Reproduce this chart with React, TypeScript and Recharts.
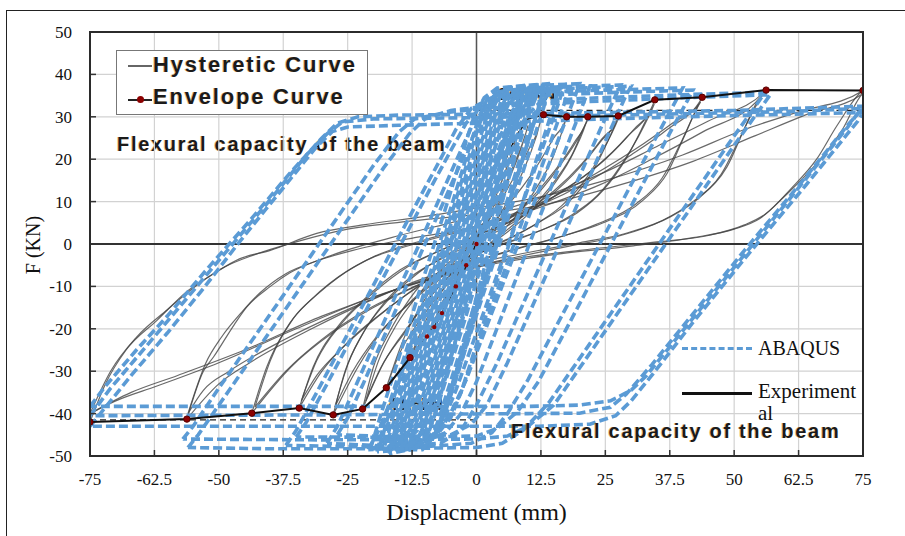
import React from 'react';
import { LineChart, Line, XAxis, YAxis, CartesianGrid, ReferenceLine } from 'recharts';

// axis ticks
const xTicks = [-75, -62.5, -50, -37.5, -25, -12.5, 0, 12.5, 25, 37.5, 50, 62.5, 75];
const yTicks = [-50, -40, -30, -20, -10, 0, 10, 20, 30, 40, 50];

// envelope curve (experiment), [disp, force] - split so the middle part sits under the ABAQUS band
const envelopeNeg = [
  [-75, -42], [-56.2, -41.3], [-43.6, -39.9], [-34.4, -38.7], [-27.8, -40.3], [-22.1, -38.9],
  [-17.5, -33.9], [-12.9, -26.8],
];
const envelopeMidNeg = [[-12.9, -26.8], [-9.6, -21.8], [-8.2, -19.6], [-6.7, -16.3], [-4, -10], [-2, -5], [0, 0]];
const envelopeMidPos = [[0, 0], [2, 7], [4, 14], [6, 21], [8, 26], [10, 29.5], [13, 30.5]];
const envelopePos = [
  [13, 30.5], [17.5, 30], [21.6, 30], [27.5, 30.2], [34.6, 34], [43.8, 34.6], [56.2, 36.3], [75, 36.2],
];

// experimental hysteretic loops
const exp75a = [[-75,-42],[-72,-33],[-68,-25],[-62,-18],[-56,-11],[-51,-7],[-46,-3.5],[-40,-1.5],[-31,2.5],[-22,4.5],[-10,6.5],[0,8.5],[12,11],[25,15],[40,21],[52,27],[62,31],[75,36.2],[70,28],[66,20],[61,13],[56,7],[52,4.5],[45,2],[35,0.5],[20,-1.5],[5,-4],[-5,-7],[-15,-10.5],[-30,-17],[-45,-25],[-58,-31],[-67,-35],[-75,-40]];
const exp75b = [[-75,-40],[-71,-30],[-66,-22],[-60,-15.5],[-54,-9.5],[-49,-5.5],[-43,-2.5],[-35,0.5],[-25,3.5],[-12,5.5],[0,7],[14,9.5],[28,14],[42,19.5],[54,25.5],[64,30.5],[75,35.5],[71,27],[66,19],[60,11.5],[55,6],[50,3.5],[42,1.5],[30,-0.5],[15,-2.5],[2,-5],[-8,-8],[-20,-12.5],[-35,-20],[-50,-28],[-62,-33.5],[-70,-37],[-75,-40]];
const exp56a = [[-56.2,-41.3],[-53,-30],[-51,-26.6],[-47,-19],[-44.6,-14.9],[-40,-10],[-36.2,-6.8],[-30,-3.5],[-25,-1.4],[-15,2],[-5,5],[5,8],[15,12],[25,17],[35,23],[45,29],[56.2,36.3],[52.5,28.5],[48.6,18.2],[43.4,11.1],[37.6,6.4],[29.2,2.6],[20,0.3],[10,-2],[0,-4.5],[-10,-8],[-20,-13],[-32,-20],[-44,-28],[-50,-33],[-56.2,-41.3]];
const exp56b = [[-56,-40],[-52.5,-28],[-49.5,-22],[-45.5,-16],[-42,-11.5],[-37,-7],[-31,-4],[-24,-1.5],[-12,1.5],[0,4],[12,8.5],[24,14],[34,20],[44,26.5],[55,34.5],[51.5,26],[47.5,16.5],[42,10],[36,5.5],[28,2],[18,-0.5],[8,-3],[-3,-6],[-14,-10],[-26,-16],[-38,-23],[-48,-30],[-53,-34.5],[-56,-40]];
const exp44a = [[-43.6,-39.9],[-40.7,-29],[-36.2,-18.6],[-32,-13],[-28.4,-9.2],[-21.3,-3.8],[-12,0],[0,4],[12,9],[22,15],[30,21],[37,27],[43.8,34.6],[40,24.5],[37,16.7],[32.4,10.4],[24.6,5],[16.2,1.7],[8,-1],[0,-4],[-10,-9],[-20,-15],[-28,-21],[-36,-29],[-43.6,-39.9]];
const exp44b = [[-43,-38.5],[-40,-27.5],[-35.5,-17.5],[-31,-12],[-27,-8],[-20,-3],[-10,1],[2,5],[13,10],[23,16.5],[31,22.5],[38,28.5],[43.5,33.5],[39.5,23.5],[36,15.5],[31,9.5],[23,4.5],[15,1.2],[6,-1.8],[-2,-5],[-12,-10],[-22,-16],[-30,-22.5],[-37,-30],[-43,-38.5]];
const exp34a = [[-34.4,-38.7],[-31.7,-29],[-27,-19.6],[-21.3,-12.5],[-14.8,-6.1],[-8,-2],[0,2],[8,6],[16,12],[23,18],[29,25],[34.6,34],[32,27],[29.2,20.5],[24.6,12.7],[19.5,7.3],[12,3],[5,0],[-3,-4],[-10,-9],[-17,-15],[-24,-22],[-30,-30],[-34.4,-38.7]];
const exp34b = [[-34,-37],[-31,-27.5],[-26,-18.5],[-20,-11.5],[-13.5,-5.5],[-6,-1],[2,3],[10,7.5],[18,13.5],[25,20],[30.5,27],[34.5,33],[31.5,25.5],[28,18.5],[23.5,11.5],[18,6.5],[10,2],[3,-1],[-5,-5],[-12,-10.5],[-19,-17],[-26,-24.5],[-31,-31],[-34,-37]];
const exp28a = [[-27.8,-40.3],[-25.5,-30],[-22,-21],[-18,-14],[-13,-8],[-6,-3],[0,0.5],[7,5],[14,11],[20,18],[24,24],[27.5,30.2],[25,23],[22,16],[18,10],[12,5],[6,1],[0,-2.5],[-6,-7],[-12,-13],[-18,-20],[-23,-29],[-27.8,-40.3]];
const exp28b = [[-27.5,-38.5],[-25,-28.5],[-21.5,-20],[-17,-13],[-11.5,-7],[-5,-2],[1,1.5],[8,6.5],[15,12.5],[20.5,19],[24.5,25],[27.5,29.5],[24.5,22],[21,15],[16.5,9],[10.5,4],[4,0],[-2,-3.5],[-8,-8.5],[-14,-15],[-19.5,-22],[-24,-30],[-27.5,-38.5]];
const exp22a = [[-22.1,-38.9],[-20,-29],[-17,-21],[-13,-13],[-8,-6],[-2,-1],[4,4],[10,10],[15,17],[19,24],[21.6,30],[19,22],[15,14],[10,7],[4,1],[-2,-4],[-8,-11],[-13,-19],[-18,-28],[-22.1,-38.9]];
const exp22b = [[-21.5,-37],[-19,-27.5],[-15.5,-19],[-11,-11.5],[-6,-5],[0,0],[6,5.5],[12,12],[16.5,19],[20,25.5],[21.5,29],[18.5,21],[14,13],[8.5,6],[2.5,0],[-3.5,-5.5],[-9,-12.5],[-14,-21],[-18.5,-29],[-21.5,-37]];
const exp17 = [[-17.5,-33.9],[-14,-22],[-10,-13],[-5,-5],[0,1],[6,9],[11,17],[15,25],[17.5,30],[15,21],[11,12],[5,3],[0,-3],[-6,-10],[-11,-18],[-15,-26],[-17.5,-33.9]];
const exp13 = [[-12.9,-26.8],[-9,-16],[-4,-6],[1,3],[6,13],[10,22],[12.5,29.5],[10,20],[6,10],[1,0],[-4,-9],[-9,-18],[-12.9,-26.8]];
const exp10 = [[-9.6,-21.8],[-5,-10],[0,0],[5,12],[8.5,22],[10,28],[7,18],[3,8],[-2,-5],[-6,-13],[-9.6,-21.8]];
const exp7 = [[-6.7,-16.3],[-3,-7],[1,3],[4,12],[7.5,24],[5,15],[1,4],[-3,-6],[-6.7,-16.3]];

// ABAQUS loops
const abq75a = [[-75,-38.3],[-72,-33.5],[-66,-25],[-60,-17],[-52,-5.5],[-44,5.5],[-36,17],[-30,25],[-27,28.5],[-23,30],[-15,30.4],[0,30.6],[25,31],[50,31.5],[75,32.5],[72,27.5],[62,12.5],[50,-5.5],[40,-20.5],[33,-31],[30,-34.5],[26,-37],[20,-38],[10,-38.3],[-20,-38.3],[-50,-38.3],[-75,-38.3]];
const abq75b = [[-75,-40.5],[-71,-34],[-64,-24],[-56,-12.5],[-48,-1],[-40,10.5],[-33,21],[-29,26],[-26,28.8],[-20,29.5],[0,29.8],[30,30.5],[60,31.2],[75,32],[72,28],[63,14.5],[52,-1.5],[42,-16.5],[34,-28.5],[29,-35.5],[26,-38.5],[20,-39.9],[10,-40],[-30,-40.3],[-75,-40.5]];
const abq75c = [[-75,-43],[-73,-40],[-67,-31],[-60,-21],[-53,-10.5],[-46,0.5],[-38,12.5],[-31,23],[-28,26.5],[-25,27.6],[-15,28],[0,28.5],[25,29.5],[50,30.3],[75,31],[74,29],[64,14],[52,-3.5],[42,-18.5],[34,-31],[30,-37],[27,-40.5],[22,-42.5],[12,-43],[-30,-43],[-75,-43]];
const abq56a = [[-56,-48],[-54,-45],[-48,-34.5],[-42,-24],[-36,-13.5],[-30,-3],[-24,7.5],[-18,18],[-13,26],[-10,29.5],[-5,31.5],[5,33],[20,34.3],[40,35.2],[56,35.8],[55,34],[50,25.5],[44,15],[38,4.5],[32,-6],[26,-16.5],[20,-27],[14,-37.5],[9,-44],[5,-47],[0,-48],[-20,-48.3],[-40,-48.3],[-56,-48]];
const abq56b = [[-57,-46],[-55,-43],[-50,-34],[-44,-23.5],[-38,-13],[-32,-2.5],[-26,8],[-20,18.5],[-15,26.5],[-12,29.5],[-6,31],[5,32.5],[20,33.5],[40,34.5],[57,35.2],[56,33.5],[51,25],[45,14.5],[39,4],[33,-6.5],[27,-17],[21,-27.5],[15,-38],[10,-43],[6,-45.3],[0,-46],[-30,-46.2],[-57,-46]];
const abq40a = [[-37,-47.5],[-35,-44],[-31,-35],[-26,-23.5],[-21,-12],[-16,-0.5],[-11,11],[-7,20],[-4,27],[-1,32],[3,34.5],[12,35.8],[25,36.3],[40,36.8],[39,34.5],[35,25.5],[30,14],[25,2.5],[20,-9],[15,-20.5],[10,-32],[6,-40],[3,-44.5],[-1,-47],[-10,-47.8],[-25,-47.8],[-37,-47.5]];
const abq40b = [[-35,-45.5],[-33,-42],[-29,-33],[-24,-21.5],[-19,-10],[-14,1.5],[-9,13],[-5,22],[-2,28.5],[1,32.5],[5,34.3],[15,35.2],[28,35.8],[42,36.3],[41,34],[37,25],[32,13.5],[27,2],[22,-9.5],[17,-21],[12,-32.5],[8,-39.5],[4,-43.5],[0,-45.3],[-15,-45.6],[-35,-45.5]];
const abq28a = [[-29,-47],[-27,-43],[-24,-35],[-20,-24],[-16,-13],[-12,-2.5],[-8,8.5],[-4,19.5],[-1,27.5],[2,33],[6,36],[15,37],[28,37.5],[27,35],[24,27],[20,16],[16,5],[12,-6],[8,-17],[4,-28],[0,-38],[-3,-44],[-7,-47],[-15,-47.8],[-29,-47]];
const abq28b = [[-27,-45],[-25,-41],[-22,-33],[-18,-22],[-14,-11],[-10,0],[-6,11],[-2,22],[1,29.5],[4,34],[10,36.2],[20,36.8],[30,37.2],[29,35],[26,27],[22,16],[18,5],[14,-6],[10,-17],[6,-28],[2,-38],[-1,-42.5],[-5,-45],[-15,-45.5],[-27,-45]];
const abq20a = [[-21,-48.5],[-19,-44],[-16,-35],[-13,-25],[-10,-15.5],[-7,-6],[-4,3.5],[-1,13],[2,22.5],[5,31],[8,35.5],[14,37.5],[20,37.8],[19,34.5],[16,25],[13,15.5],[10,6],[7,-3.5],[4,-13],[1,-22.5],[-2,-32],[-5,-40],[-8,-45.5],[-12,-48],[-21,-48.5]];
const abq20b = [[-19,-46.5],[-17,-42],[-14,-33],[-11,-23.5],[-8,-14],[-5,-4.5],[-2,5],[1,14.5],[4,24],[7,31.5],[10,35.5],[16,37],[22,37.3],[21,34],[18,24.5],[15,15],[12,5.5],[9,-4],[6,-13.5],[3,-23],[0,-32.5],[-3,-40],[-6,-44.5],[-10,-46.5],[-19,-46.5]];
const abq17a = [[-17,-49.5],[-15,-45],[-12.5,-37],[-10,-28.5],[-7.5,-20],[-5,-11.5],[-2.5,-3],[0,5.5],[2.5,14],[5,22.5],[7.5,30],[10,35],[17,37.5],[16,33.5],[13.5,25],[11,16.5],[8.5,8],[6,-0.5],[3.5,-9],[1,-17.5],[-1.5,-26],[-4,-34.5],[-6.5,-42],[-9.5,-47.5],[-17,-49.5]];
const abq17b = [[-16,-44],[-13.5,-38],[-11,-29.5],[-8.5,-21],[-6,-12.5],[-3.5,-4],[-1,4.5],[1.5,13],[4,21.5],[6.5,29],[9,34],[12,36.5],[18,37],[17,33],[14.5,24.5],[12,16],[9.5,7.5],[7,-1],[4.5,-9.5],[2,-18],[-0.5,-26.5],[-3,-35],[-5.5,-41],[-9,-44],[-16,-44]];
const abq14a = [[-15,-49],[-13,-44],[-11,-36.5],[-9,-29],[-7,-21.5],[-5,-14],[-3,-6.5],[-1,1],[1,8.5],[3,16],[5,23.5],[7,30],[9,34.5],[14,36.5],[13,32],[11,24.5],[9,17],[7,9.5],[5,2],[3,-5.5],[1,-13],[-1,-20.5],[-3,-28],[-5,-35.5],[-7,-42],[-10,-47],[-15,-49]];
const abq14b = [[-13,-47],[-11,-41],[-9,-33.5],[-7,-26],[-5,-18.5],[-3,-11],[-1,-3.5],[1,4],[3,11.5],[5,19],[7,26.5],[9,32],[11,35.5],[16,36.8],[15,32.5],[13,25],[11,17.5],[9,10],[7,2.5],[5,-5],[3,-12.5],[1,-20],[-1,-27.5],[-3,-35],[-5,-41],[-8,-45.5],[-13,-47]];
const abq12 = [[-12,-48],[-10,-42],[-8,-34],[-6,-26],[-4,-18],[-2,-10],[0,-2],[2,6],[4,14],[6,22],[8,29.5],[10,34.5],[13,36.8],[12,32],[10,24],[8,16],[6,8],[4,0],[2,-8],[0,-16],[-2,-24],[-4,-32],[-6,-39.5],[-8,-45],[-12,-48]];
const abq10 = [[-10,-47],[-8,-40],[-6,-31.5],[-4,-22.5],[-2,-13.5],[0,-4.5],[2,4.5],[4,13.5],[6,22.5],[8,31],[9,35],[11,36.5],[10,32],[8,23.5],[6,14.5],[4,5.5],[2,-3.5],[0,-12.5],[-2,-21.5],[-4,-30.5],[-6,-38.5],[-8,-44.5],[-10,-47]];
// small cycles forming the dense central band
const abqS1 = [[-18.3,-47],[-16.5,-40],[-13.9,-30],[-11.3,-20],[-8.8,-10],[-6.2,0],[-3.6,10],[-1.1,20],[1.5,30],[3,34.5],[5,36.5],[12,37.3],[13,35.5],[11.5,30],[8.9,20],[6.4,10],[3.8,0],[1.2,-10],[-1.3,-20],[-3.9,-30],[-6.5,-40],[-8.3,-45],[-10.5,-47.3],[-18.3,-47]];
const abqS2 = [[-16.3,-47.5],[-14.5,-40],[-11.9,-30],[-9.3,-20],[-6.8,-10],[-4.2,0],[-1.6,10],[0.9,20],[3.5,30],[5,34],[7,36],[11,36.8],[11,34],[9.5,30],[6.9,20],[4.4,10],[1.8,0],[-0.8,-10],[-3.3,-20],[-5.9,-30],[-8.5,-40],[-10,-44.5],[-12,-47],[-16.3,-47.5]];
const abqS3 = [[-14.3,-46],[-12.5,-40],[-9.9,-30],[-7.3,-20],[-4.8,-10],[-2.2,0],[0.4,10],[2.9,20],[5.5,30],[7,34],[9,35.5],[8.5,32],[7.5,30],[4.9,20],[2.4,10],[-0.2,0],[-2.8,-10],[-5.3,-20],[-7.9,-30],[-10.5,-40],[-12,-44],[-14.3,-46]];
const abqS4 = [[-19.3,-49],[-17.5,-40],[-14.9,-30],[-12.3,-20],[-9.8,-10],[-7.2,0],[-4.6,10],[-2.1,20],[0.5,30],[2,34],[4,36.5],[10,37.5],[10.5,34],[8.5,30],[5.9,20],[3.4,10],[0.8,0],[-1.8,-10],[-4.3,-20],[-6.9,-30],[-9.5,-40],[-11,-45],[-13,-48.5],[-19.3,-49]];
const abqS5 = [[-15.3,-48],[-13.5,-40],[-10.9,-30],[-8.3,-20],[-5.8,-10],[-3.2,0],[-0.6,10],[1.9,20],[4.5,30],[6,34],[8,36.5],[13,37.5],[13.5,35],[11.5,30],[8.9,20],[6.4,10],[3.8,0],[1.2,-10],[-1.3,-20],[-3.9,-30],[-6.5,-40],[-8,-45],[-10,-48],[-15.3,-48]];
const abqS6 = [[-17.3,-46.5],[-15.5,-40],[-12.9,-30],[-10.3,-20],[-7.8,-10],[-5.2,0],[-2.6,10],[-0.1,20],[2.5,30],[4,34],[6,35.8],[9,36.2],[8.5,33],[6.5,30],[3.9,20],[1.4,10],[-1.2,0],[-3.8,-10],[-6.3,-20],[-8.9,-30],[-11.5,-40],[-13,-44],[-14.5,-46],[-17.3,-46.5]];
const abqS7 = [[-20.5,-48],[-18.5,-40],[-15.9,-30],[-13.3,-20],[-10.8,-10],[-8.2,0],[-5.6,10],[-3.1,20],[-0.5,30],[1.5,34.5],[4,36.8],[14,37.8],[14.5,36],[9.5,30],[6.9,20],[4.4,10],[1.8,0],[-0.8,-10],[-3.3,-20],[-5.9,-30],[-8.5,-40],[-10,-45.5],[-12.5,-48.5],[-20.5,-48]];
const abqS8 = [[-17.8,-47.5],[-16,-40],[-13.4,-30],[-10.8,-20],[-8.3,-10],[-5.7,0],[-3.1,10],[-0.6,20],[2,30],[3.5,34.5],[5.5,36.3],[11,37],[11.5,34.5],[10,30],[7.4,20],[4.9,10],[2.3,0],[-0.3,-10],[-2.8,-20],[-5.4,-30],[-8,-40],[-9.5,-45],[-11.5,-47.8],[-17.8,-47.5]];
const abqS9 = [[-15.8,-45.5],[-14,-40],[-11.4,-30],[-8.8,-20],[-6.3,-10],[-3.7,0],[-1.1,10],[1.4,20],[4,30],[5.5,34],[7.5,35.8],[9,35.5],[8,30],[5.4,20],[2.9,10],[0.3,0],[-2.3,-10],[-4.8,-20],[-7.4,-30],[-10,-40],[-11.5,-44],[-13,-45.8],[-15.8,-45.5]];
const abqS10 = [[-18.8,-48],[-17,-40],[-14.4,-30],[-11.8,-20],[-9.3,-10],[-6.7,0],[-4.1,10],[-1.6,20],[1,30],[2.5,34],[4.5,36],[8,36.5],[8,33],[7,30],[4.4,20],[1.9,10],[-0.7,0],[-3.3,-10],[-5.8,-20],[-8.4,-30],[-11,-40],[-12.5,-45],[-14.5,-47.8],[-18.8,-48]];
const abqS11 = [[-16.8,-48.5],[-15,-40],[-12.4,-30],[-9.8,-20],[-7.3,-10],[-4.7,0],[-2.1,10],[0.4,20],[3,30],[4.5,34.5],[6.5,36.8],[12.5,37.6],[13,35],[11,30],[8.4,20],[5.9,10],[3.3,0],[0.7,-10],[-1.8,-20],[-4.4,-30],[-7,-40],[-8.5,-45.5],[-10.5,-48.5],[-16.8,-48.5]];
const abqS12 = [[-14.8,-47],[-13,-40],[-10.4,-30],[-7.8,-20],[-5.3,-10],[-2.7,0],[-0.1,10],[2.4,20],[5,30],[6.5,34],[8.5,36],[10.5,36.2],[10,33],[9,30],[6.4,20],[3.9,10],[1.3,0],[-1.3,-10],[-3.8,-20],[-6.4,-30],[-9,-40],[-10.5,-44.5],[-12.5,-47],[-14.8,-47]];

const hystLoops = [exp75a, exp75b, exp56a, exp56b, exp44a, exp44b, exp34a, exp34b, exp28a, exp28b, exp22a, exp22b, exp17, exp13, exp10, exp7];
const abaqusLoops = [
  abq75a, abq75b, abq75c, abq56a, abq56b, abq40a, abq40b, abq28a, abq28b, abq20a, abq20b,
  abq17a, abq17b, abq14a, abq14b, abq12, abq10,
  abqS1, abqS2, abqS3, abqS4, abqS5, abqS6, abqS7, abqS8, abqS9, abqS10, abqS11, abqS12,
];

const toPts = (arr: number[][]) => arr.map(([x, y]) => ({ x, y }));

const BLUE = '#5b9bd5';
const serif = '"Liberation Serif", "Times New Roman", serif';
const sans = '"Liberation Sans", Arial, sans-serif';
const envDot = { r: 3.2, fill: '#8b0000', stroke: '#5a0000', strokeWidth: 1 };

const boldText: React.CSSProperties = {
  position: 'absolute', fontFamily: sans, fontWeight: 700, color: '#1b1b1b', whiteSpace: 'nowrap',
  textShadow: '-1px 0 0 rgba(214,140,40,0.55)',
};

const App: React.FC = () => {
  return (
    <div style={{ position: 'absolute', left: 0, top: 0, width: 905, height: 536, background: '#fff', overflow: 'hidden' }}>
      {/* outer frame */}
      <div style={{ position: 'absolute', left: 6, top: 10, width: 920, height: 560, borderLeft: '1.5px solid #222', borderTop: '1.5px solid #222' }} />

      {/* texts drawn under the curves */}
      <div style={{ ...boldText, left: 117, top: 133, fontSize: 20, letterSpacing: 1.7 }}>Flexural capacity of the beam</div>
      <div style={{ ...boldText, left: 498, top: 85, fontSize: 17 }}>34.1KN</div>
      <div style={{ ...boldText, left: 388, top: 395, fontSize: 17 }}>41.5kN</div>

      <div style={{ position: 'absolute', left: 0, top: 0 }}>
        <LineChart width={905} height={536} margin={{ top: 32, right: 42, bottom: 50, left: 30 }}>
          <CartesianGrid stroke="#d2d2d2" strokeWidth={1.2} verticalValues={xTicks} horizontalValues={yTicks} />
          <XAxis
            dataKey="x" type="number" domain={[-75, 75]} ticks={xTicks} allowDataOverflow
            axisLine={false} tickSize={-6} tickMargin={23}
            tickLine={{ stroke: '#333', strokeWidth: 1.5 }}
            tick={{ fontFamily: serif, fontSize: 17, fill: '#111' }}
          />
          <XAxis
            xAxisId="top" orientation="top" height={0} type="number" domain={[-75, 75]} ticks={xTicks}
            axisLine={false} tickSize={-6} tick={false} tickLine={{ stroke: '#333', strokeWidth: 1.5 }}
          />
          <YAxis
            type="number" domain={[-50, 50]} ticks={yTicks} width={60} allowDataOverflow
            axisLine={false} tickSize={-6} tickMargin={24}
            tickLine={{ stroke: '#333', strokeWidth: 1.5 }}
            tick={{ fontFamily: serif, fontSize: 17, fill: '#111' }}
          />
          <ReferenceLine y={0} stroke="#333" strokeWidth={1.8} />
          <ReferenceLine x={0} stroke="#555" strokeWidth={1.5} />
          <ReferenceLine segment={[{ x: 0, y: 31.5 }, { x: 75, y: 31.5 }]} stroke="#222" strokeWidth={1.2} strokeDasharray="6 4" />
          <ReferenceLine segment={[{ x: -75, y: -41.5 }, { x: 0, y: -41.5 }]} stroke="#222" strokeWidth={1.2} strokeDasharray="6 4" />

          {hystLoops.map((loop, i) => (
            <Line
              key={`h${i}`} data={toPts(loop)} dataKey="y" type="monotone" dot={false}
              stroke="#444" strokeOpacity={0.8} strokeWidth={1.2} isAnimationActive={false}
            />
          ))}
          <Line
            data={toPts(envelopeMidNeg)} dataKey="y" type="linear" stroke="#111" strokeWidth={2}
            dot={{ r: 2.2, fill: '#8b0000', stroke: 'none' }} isAnimationActive={false}
          />
          <Line
            data={toPts(envelopeMidPos)} dataKey="y" type="linear" stroke="#111" strokeWidth={1.6}
            dot={false} isAnimationActive={false}
          />
          {abaqusLoops.map((loop, i) => (
            <Line
              key={`a${i}`} data={toPts(loop)} dataKey="y" type="linear" dot={false}
              stroke={BLUE} strokeWidth={3.6} strokeDasharray="9 4" isAnimationActive={false}
            />
          ))}
          <Line
            data={toPts(envelopeNeg)} dataKey="y" type="linear" stroke="#111" strokeWidth={2}
            dot={envDot} isAnimationActive={false}
          />
          <Line
            data={toPts(envelopePos)} dataKey="y" type="linear" stroke="#111" strokeWidth={2}
            dot={envDot} isAnimationActive={false}
          />
        </LineChart>
      </div>

      {/* plot border */}
      <div style={{ position: 'absolute', left: 89, top: 31, width: 775, height: 426, border: '2px solid #2b2b2b', boxSizing: 'border-box' }} />

      {/* legend: experiment */}
      <div style={{ position: 'absolute', left: 116, top: 50, width: 252, height: 65, border: '1px solid #777', background: '#fff', boxSizing: 'border-box' }}>
        <div style={{ position: 'absolute', left: 11, top: 14, width: 24, height: 1.5, background: '#666' }} />
        <div style={{ ...boldText, left: 36, top: 1, fontSize: 22, letterSpacing: 1.8 }}>Hysteretic Curve</div>
        <div style={{ position: 'absolute', left: 11, top: 48, width: 24, height: 2, background: '#222' }} />
        <div style={{ position: 'absolute', left: 20, top: 45, width: 7, height: 7, borderRadius: 4, background: '#8b0000' }} />
        <div style={{ ...boldText, left: 36, top: 33, fontSize: 22, letterSpacing: 1.8 }}>Envelope Curve</div>
      </div>

      {/* legend: ABAQUS / Experimental */}
      <div style={{ position: 'absolute', left: 682, top: 347, width: 70, height: 0, borderTop: `3px dashed ${BLUE}` }} />
      <div style={{ position: 'absolute', left: 758, top: 337, fontFamily: serif, fontSize: 20, color: '#111' }}>ABAQUS</div>
      <div style={{ position: 'absolute', left: 682, top: 392, width: 70, height: 3, background: '#111' }} />
      <div style={{ position: 'absolute', left: 758, top: 380, fontFamily: serif, fontSize: 21, color: '#111', lineHeight: '22px' }}>Experiment<br />al</div>

      {/* text drawn over the curves */}
      <div style={{ ...boldText, left: 511, top: 420, fontSize: 20, letterSpacing: 1.7 }}>Flexural capacity of the beam</div>

      {/* axis titles */}
      <div style={{ position: 'absolute', left: 0, width: 953, top: 499, textAlign: 'center', fontFamily: serif, fontSize: 24, color: '#111' }}>Displacment (mm)</div>
      <div style={{ position: 'absolute', left: 33, top: 245, transform: 'translate(-50%, -50%) rotate(-90deg)', fontFamily: serif, fontSize: 20, color: '#111', whiteSpace: 'nowrap' }}>F (KN)</div>
    </div>
  );
};

export default App;
